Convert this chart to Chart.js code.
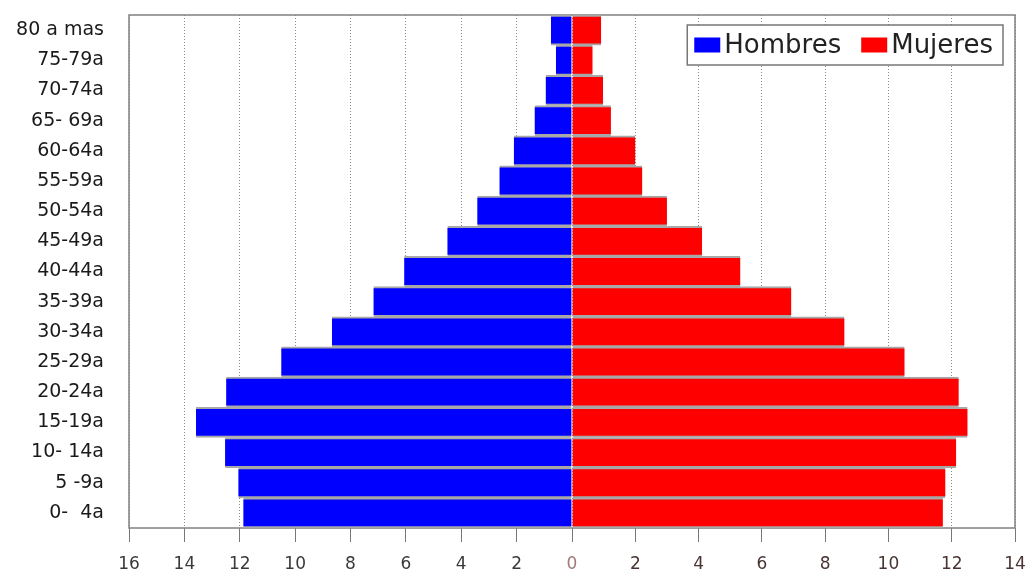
<!DOCTYPE html>
<html>
<head>
<meta charset="utf-8">
<title>Piramide de poblacion</title>
<script src="https://cdn.jsdelivr.net/npm/chart.js@4.4.1/dist/chart.umd.min.js"></script>
<style>
  body { margin: 0; background: #fff; }
  canvas { display: block; }
</style>
</head>
<body>
<canvas id="piramide" width="1027" height="576"></canvas>
<script>
// grupos de edad, de arriba hacia abajo
const edades = ['80 a mas', '75-79a', '70-74a', '65- 69a', '60-64a', '55-59a', '50-54a', '45-49a',
  '40-44a', '35-39a', '30-34a', '25-29a', '20-24a', '15-19a', '10- 14a', '5 -9a', '0-  4a'];

// porcentajes
const hombres = [0.76, 0.58, 0.95, 1.35, 2.1, 2.62, 3.42, 4.5, 6.06, 7.17, 8.67, 10.5, 12.49, 13.58, 12.53, 12.05, 11.87];
const mujeres = [0.92, 0.65, 0.98, 1.23, 2.0, 2.22, 3.0, 4.11, 5.32, 6.93, 8.61, 10.51, 12.22, 12.5, 12.14, 11.8, 11.72];

// limites de los dos ejes horizontales
const maxHombres = 16;
const maxMujeres = 14;
const pasoEje = 2;

const FUENTE = "'DejaVu Sans', 'Liberation Sans', Arial, sans-serif";

// marco gris alrededor del area del grafico
const marco = {
  id: 'marco',
  beforeDatasetsDraw(chart) {
    const a = chart.chartArea;
    const ctx = chart.ctx;
    ctx.save();
    ctx.strokeStyle = '#808080';
    ctx.lineWidth = 1.5;
    ctx.strokeRect(a.left, a.top, a.right - a.left, a.bottom - a.top);
    ctx.restore();
  }
};

// leyenda con recuadro dentro del area, arriba a la derecha
const leyendaCaja = {
  id: 'leyendaCaja',
  afterDraw(chart) {
    const a = chart.chartArea;
    const ctx = chart.ctx;
    ctx.save();
    ctx.font = '26px ' + FUENTE;
    const sw = 26, sh = 15, gapTxt = 4, gapItem = 20, padL = 7, padR = 10;
    const items = chart.data.datasets.map(ds => ({ label: ds.label, color: ds.backgroundColor, w: ctx.measureText(ds.label).width }));
    let total = padL + padR;
    items.forEach((it, i) => { total += sw + gapTxt + it.w + (i < items.length - 1 ? gapItem : 0); });
    const bx = a.right - 12 - total;
    const by = a.top + 10;
    const bh = 40;
    ctx.fillStyle = '#fff';
    ctx.fillRect(bx, by, total, bh);
    ctx.strokeStyle = '#777';
    ctx.lineWidth = 1.5;
    ctx.strokeRect(bx, by, total, bh);
    let x = bx + padL;
    const cy = by + bh / 2;
    ctx.textBaseline = 'middle';
    items.forEach(it => {
      ctx.fillStyle = it.color;
      ctx.fillRect(x, cy - sh / 2, sw, sh);
      x += sw + gapTxt;
      ctx.fillStyle = '#222';
      ctx.fillText(it.label, x, cy + 1);
      x += it.w + gapItem;
    });
    ctx.restore();
  }
};

const ejeX = (max, reverse, color) => ({
  type: 'linear',
  position: 'bottom',
  stack: 'pyr',
  stackWeight: 1,
  min: 0,
  max: max,
  reverse: reverse,
  afterFit(scale) {
    scale.height = 48;
    scale.paddingLeft = 0;
    scale.paddingRight = 0;
  },
  grid: { color: '#8a8a8a', lineWidth: 1, tickLength: 14, tickColor: '#777', tickBorderDash: [] },
  border: { display: false, dash: [1, 2] },
  ticks: {
    stepSize: pasoEje,
    padding: 12,
    maxRotation: 0,
    autoSkip: false,
    color: color,
    font: { family: FUENTE, size: 17 },
    callback: (v) => (reverse && v === 0) ? '' : v
  }
});

new Chart(document.getElementById('piramide'), {
  type: 'bar',
  data: {
    labels: edades,
    datasets: [
      {
        label: 'Hombres',
        data: hombres,
        xAxisID: 'xh',
        backgroundColor: '#0000ff',
        borderColor: '#a8a8a8',
        borderWidth: { top: 2, bottom: 2, left: 0, right: 0 },
        borderSkipped: false
      },
      {
        label: 'Mujeres',
        data: mujeres,
        xAxisID: 'xm',
        backgroundColor: '#ff0000',
        borderColor: '#a8a8a8',
        borderWidth: { top: 2, bottom: 2, left: 0, right: 0 },
        borderSkipped: false
      }
    ]
  },
  options: {
    indexAxis: 'y',
    responsive: false,
    animation: false,
    grouped: false,
    barPercentage: 1,
    categoryPercentage: 1,
    layout: { padding: { top: 15, right: 12, bottom: 0, left: 0 } },
    plugins: { legend: { display: false }, tooltip: { enabled: false } },
    scales: {
      xh: ejeX(maxHombres, true, '#3a3a3a'),
      xm: ejeX(maxMujeres, false, (c) => c.tick && c.tick.value === 0 ? '#a07a7a' : '#4a3333'),
      y: {
        type: 'category',
        afterFit(scale) {
          scale.width = 129;
          scale.paddingTop = 0;
          scale.paddingBottom = 0;
        },
        grid: { display: false, drawTicks: false },
        border: { display: false },
        ticks: { color: '#1a1a1a', padding: 25, font: { family: FUENTE, size: 19 } }
      }
    }
  },
  plugins: [marco, leyendaCaja]
});
</script>
</body>
</html>
